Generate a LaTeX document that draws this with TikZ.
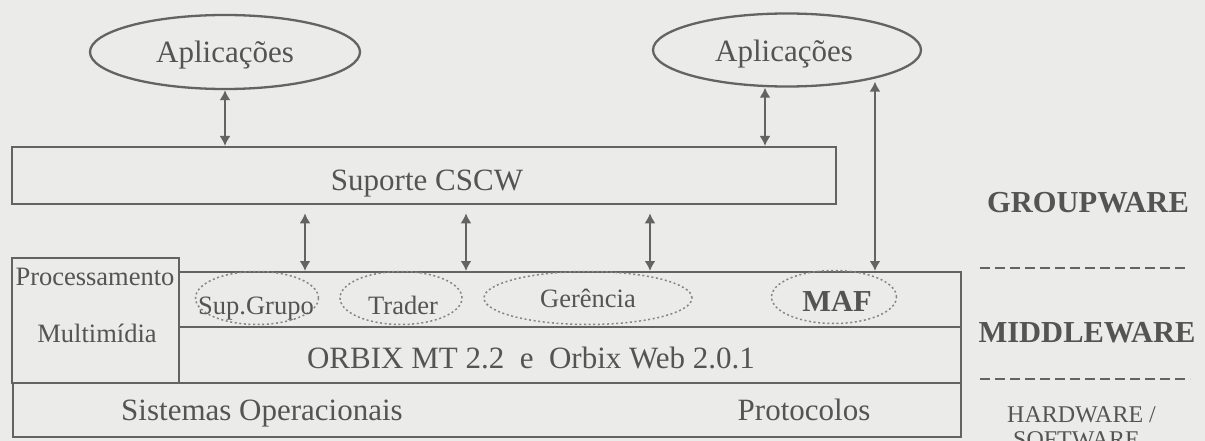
\documentclass[tikz,border=0pt]{standalone}
\usepackage{fontspec}
\setmainfont{Liberation Serif}
\usetikzlibrary{shapes.geometric,arrows.meta,calc}
\definecolor{paper}{HTML}{EBEBE9}
\definecolor{ink}{HTML}{636363}
\definecolor{txt}{HTML}{545454}
\definecolor{dots}{HTML}{858585}

\begin{document}
\begin{tikzpicture}[x=1pt,y=-1pt,
  layer/.style={draw=ink,line width=2.3pt,rectangle,inner sep=0pt,anchor=north west},
  appl/.style={draw=ink,line width=2.3pt,ellipse,inner sep=0pt},
  svcell/.style={draw=dots,line width=1.5pt,dash pattern=on 2pt off 2.6pt,ellipse,inner sep=0pt},
  bi/.style={ink,line width=2pt,{Latex[length=10pt,width=11pt]}-{Latex[length=10pt,width=11pt]}},
  sepline/.style={ink,line width=2pt,dash pattern=on 10pt off 5pt},
  big/.style={text=txt,font=\fontsize{31}{37}\selectfont,inner sep=0pt,anchor=base},
  bigb/.style={text=txt,font=\fontsize{30.5}{37}\selectfont\bfseries,inner sep=0pt,anchor=base},
  small/.style={text=txt,font=\fontsize{26.5}{32}\selectfont,inner sep=0pt,anchor=base},
  tag/.style={text=txt,font=\fontsize{24}{29}\selectfont,inner sep=0pt,anchor=base west}]

\fill[paper] (0,0) rectangle (1205,441);
\clip (0,0) rectangle (1205,441);

% applications
\node[appl,minimum width=270pt,minimum height=74pt] (app1) at (225,52) {};
\node[appl,minimum width=268pt,minimum height=73pt] (app2) at (787,50) {};
\node[big] (app1t) at (225,63) {Aplicações};
\node[big] (app2t) at (784,62) {Aplicações};

% CSCW support layer
\node[layer,minimum width=824pt,minimum height=57pt] (cscw) at (11,146) {};
\node[big] (cscwt) at (427,190) {Suporte CSCW};

% middleware layers
\node[layer,minimum width=782pt,minimum height=55pt] (svc) at (178,271) {};
\node[layer,minimum width=782pt,minimum height=56pt] (orb) at (178,326) {};
\node[layer,minimum width=167pt,minimum height=125pt] (pmm) at (11,257) {};
\node[layer,minimum width=948pt,minimum height=54pt] (so) at (12,382) {};

\node[small] (pmm1) at (95,285) {Processamento};
\node[small] (pmm2) at (97,342) {Multimídia};
\node[big] (orbt) at (531,368) {ORBIX MT 2.2~~e~~Orbix Web 2.0.1};
\node[big] (sot) at (262,420) {Sistemas Operacionais};
\node[big] (prt) at (804,420) {Protocolos};

% middleware services
\node[svcell,minimum width=123pt,minimum height=53pt] (supg) at (257,298) {};
\node[svcell,minimum width=122pt,minimum height=53pt] (trad) at (401,298) {};
\node[svcell,minimum width=208pt,minimum height=53pt] (ger) at (588,298) {};
\node[svcell,minimum width=125pt,minimum height=53pt] (maf) at (834,297) {};
\node[small] (supgt) at (256,314) {Sup.Grupo};
\node[small] (tradt) at (403,314) {Trader};
\node[small] (gert) at (588,307) {Gerência};
\node[bigb] (maft) at (837,311) {MAF};

% connectors
\coordinate (k2) at (765,0);
\coordinate (k3) at (305,0);
\coordinate (k4) at (466,0);
\coordinate (k5) at (650,0);
\draw[bi] (app1) -- (app1 |- cscw.north);
\draw[bi] (k2 |- app2.south) -- (k2 |- cscw.north);
\draw[bi,shorten <=8pt] (k3 |- cscw.south) -- (k3 |- svc.north);
\draw[bi,shorten <=8pt] (k4 |- cscw.south) -- (k4 |- svc.north);
\draw[bi,shorten <=8pt] (k5 |- cscw.south) -- (k5 |- svc.north);
\draw[bi,shorten <=3pt] (app2.-18) -- (app2.-18 |- svc.north);

% level captions
\node[bigb] (gw) at (1088,212) {GROUPWARE};
\node[bigb] (mw) at (1087,342) {MIDDLEWARE};
\node[tag] (hw) at (1007,422) {HARDWARE /};
\node[tag] (sw) at (1013,447) {SOFTWARE};
\coordinate (d1a) at (980,268);
\coordinate (d1b) at (1188,268);
\coordinate (d2a) at (980,379);
\coordinate (d2b) at (1190,379);
\draw[sepline] (d1a) -- (d1b);
\draw[sepline] (d2a) -- (d2b);
\end{tikzpicture}
\end{document}
